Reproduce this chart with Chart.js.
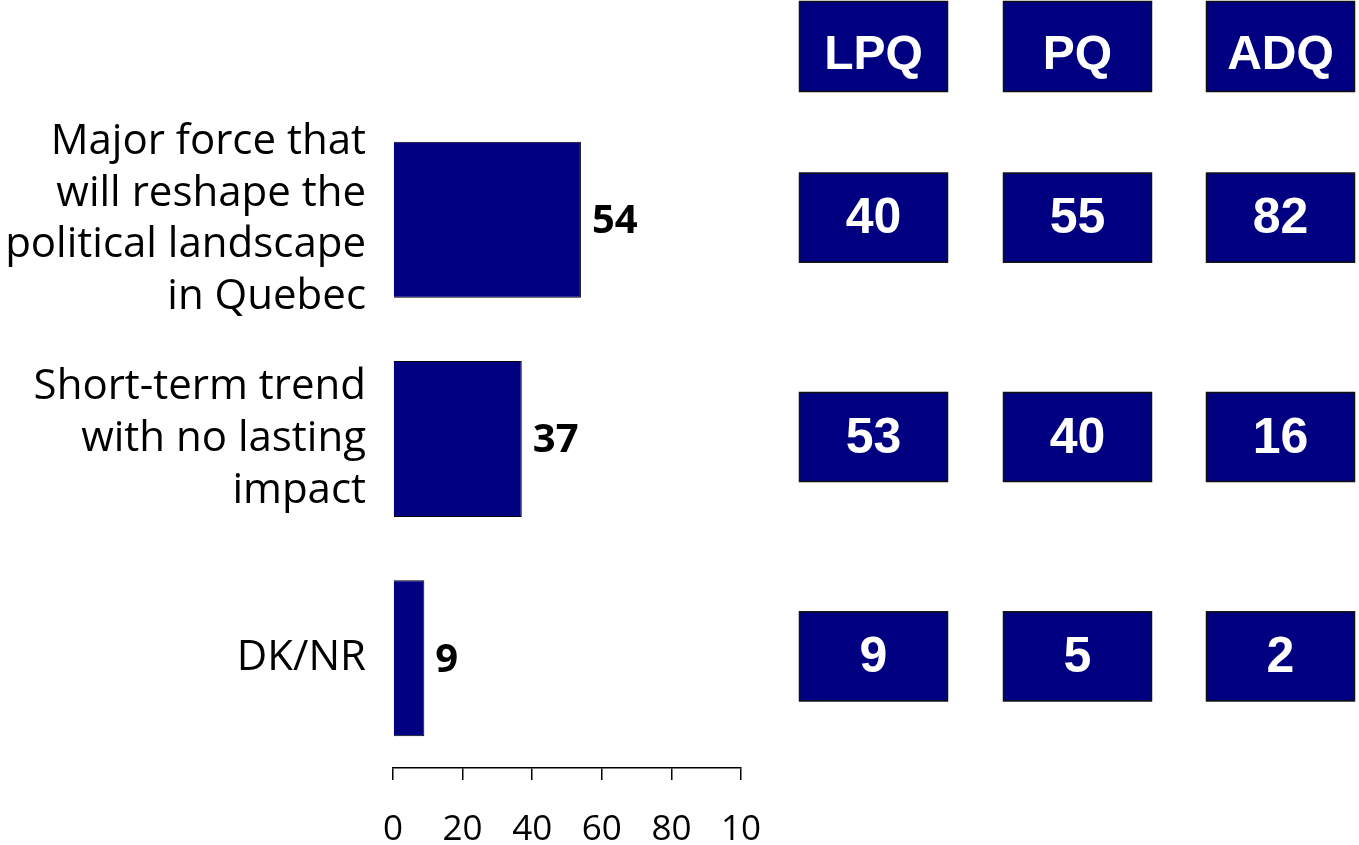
<!DOCTYPE html>
<html>
<head>
<meta charset="utf-8">
<script src="https://cdn.jsdelivr.net/npm/chart.js@4"></script>
<style>
  html, body { margin: 0; padding: 0; background: #fff; }
  #chart { display: block; }
</style>
</head>
<body>
<canvas id="chart" width="1359" height="845"></canvas>
<script>
// --- Data ---
const categories = [
    ['Major force that', 'will reshape the', 'political landscape', 'in Quebec'],
    ['Short-term trend', 'with no lasting', 'impact'],
    ['DK/NR']
];
const totals = [54, 37, 9];
const parties = ['LPQ', 'PQ', 'ADQ'];
const lpqValues = [40, 53, 9];
const pqValues = [55, 40, 5];
const adqValues = [82, 16, 2];
const tickLabels = ['0', '20', '40', '60', '80', '10'];

// --- Style ---
const NAVY = '#000080';
const labelFont = '"Open Sans", "Noto Sans", sans-serif';
const boxFont = '"Liberation Sans", Arial, sans-serif';

// value labels at the end of each bar
const barLabels = {
    id: 'barLabels',
    afterDatasetsDraw(chart) {
        const ctx = chart.ctx;
        const meta = chart.getDatasetMeta(0);
        ctx.save();
        ctx.font = 'bold 40px ' + labelFont;
        ctx.fillStyle = '#000';
        ctx.textAlign = 'left';
        ctx.textBaseline = 'middle';
        meta.data.forEach((bar, i) => {
            ctx.fillText(String(totals[i]), bar.x + 11, bar.y + 2);
        });
        ctx.restore();
    }
};

// party breakdown boxes on the right
const partyTable = {
    id: 'partyTable',
    afterDraw(chart) {
        const ctx = chart.ctx;
        const yScale = chart.scales.y;
        const columns = [lpqValues, pqValues, adqValues];
        const boxW = 149, boxH = 90;
        const colLeft = [799, 1003, 1206];

        const drawBox = (x, y, h, text, size, dy) => {
            ctx.fillStyle = NAVY;
            ctx.fillRect(x, y, boxW, h);
            ctx.strokeStyle = '#111';
            ctx.lineWidth = 1.5;
            ctx.strokeRect(x + 0.5, y + 0.5, boxW - 1, h - 1);
            ctx.fillStyle = '#fff';
            ctx.font = 'bold ' + size + 'px ' + boxFont;
            ctx.textAlign = 'center';
            ctx.textBaseline = 'middle';
            ctx.fillText(text, x + boxW / 2, y + h / 2 + dy);
        };

        ctx.save();
        parties.forEach((p, c) => {
            drawBox(colLeft[c], 1, 91, p, 48, 9);
            columns[c].forEach((v, r) => {
                const cy = yScale.getPixelForValue(r);
                drawBox(colLeft[c], cy - boxH / 2 - 2, boxH, String(v), 50, 2);
            });
        });
        ctx.restore();
    }
};

new Chart(document.getElementById('chart'), {
    type: 'bar',
    data: {
        labels: categories,
        datasets: [{
            data: totals,
            backgroundColor: NAVY,
            borderColor: '#000',
            borderWidth: 1,
            barPercentage: 0.711,
            categoryPercentage: 1
        }]
    },
    options: {
        indexAxis: 'y',
        responsive: false,
        animation: false,
        layout: { padding: { top: 110, right: 618, bottom: 0, left: 0 } },
        plugins: {
            legend: { display: false },
            tooltip: { enabled: false },
            title: { display: false }
        },
        scales: {
            x: {
                min: 0,
                max: 100,
                afterFit: (scale) => {
                    scale.height = 77;
                    scale.paddingLeft = 0;
                    scale.paddingRight = 0;
                },
                afterBuildTicks: (scale) => {
                    scale.ticks = tickLabels.map((_, i) => ({ value: i * 20 }));
                },
                border: { display: true, color: '#000', width: 1.5 },
                grid: {
                    drawOnChartArea: false,
                    drawTicks: true,
                    tickLength: 12,
                    color: '#000',
                    lineWidth: 1.5
                },
                ticks: {
                    color: '#000',
                    padding: 29,
                    maxRotation: 0,
                    autoSkip: false,
                    font: { family: labelFont, size: 35 },
                    callback: (v, i) => tickLabels[i]
                }
            },
            y: {
                afterFit: (scale) => {
                    scale.width = 393;
                    scale.paddingTop = 0;
                    scale.paddingBottom = 0;
                },
                border: { display: false },
                grid: { display: false, drawTicks: false },
                ticks: {
                    color: '#000',
                    padding: 27,
                    font: { family: labelFont, size: 42, lineHeight: 1.23 }
                }
            }
        }
    },
    plugins: [barLabels, partyTable]
});
</script>
</body>
</html>
